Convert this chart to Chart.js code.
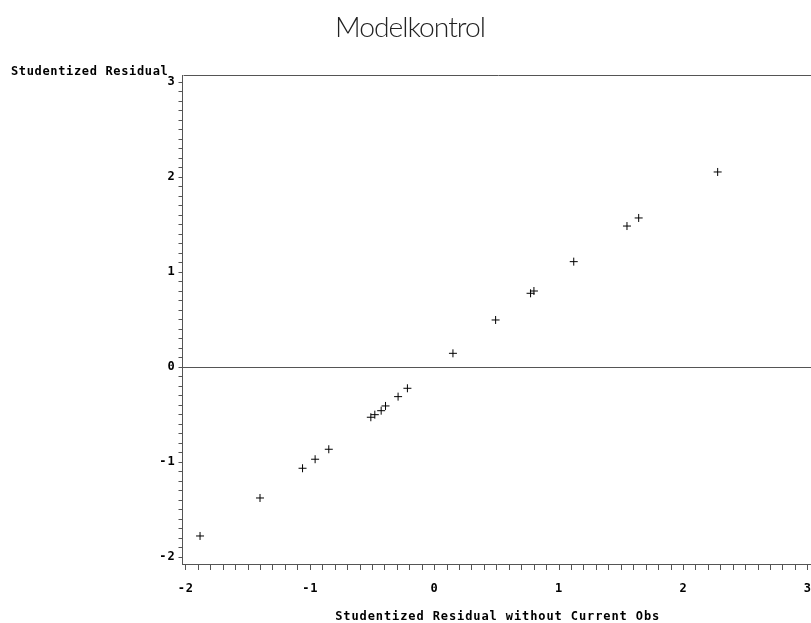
<!DOCTYPE html>
<html>
<head>
<meta charset="utf-8">
<title>Modelkontrol</title>
<script src="https://cdn.jsdelivr.net/npm/chart.js@4.4.0/dist/chart.umd.min.js"></script>
<style>
  html, body { margin: 0; padding: 0; background: #fff; overflow: hidden; }
  #wrap { width: 811px; height: 623px; overflow: hidden; }
  canvas { display: block; }
</style>
</head>
<body>
<div id="wrap"><canvas id="residChart" width="824" height="623"></canvas></div>
<script>
// ========== Data ==========
const xResidNoObs = [-1.886, -1.404, -1.062, -0.961, -0.851, -0.513, -0.481, -0.430, -0.395, -0.294,
                     -0.219, 0.147, 0.490, 0.771, 0.798, 1.118, 1.546, 1.640, 2.275];
const yResid = [-1.776, -1.376, -1.063, -0.968, -0.863, -0.526, -0.499, -0.457, -0.407, -0.309,
                -0.221, 0.147, 0.498, 0.779, 0.803, 1.112, 1.487, 1.572, 2.056];

const xTickLabels = [-2, -1, 0, 1, 2, 3];
const yTickLabels = [-2, -1, 0, 1, 2, 3];
const xRange = [-2.027, 3.041];
const yRange = [-2.071, 3.077];

const chartTitle = 'Modelkontrol';
const xTitle = 'Studentized Residual without Current Obs';
const yTitle = 'Studentized Residual';

// ========== Utils ==========
const monoFont = { family: '"DejaVu Sans Mono", "Liberation Mono", monospace', size: 12, weight: 'bold' };
const axisColor = '#555';

function labelFor(list, v) {
  const hit = list.find(t => Math.abs(t - v) < 1e-6);
  return hit === undefined ? '' : String(hit);
}

// letter spacing to get the wide SAS-like monospace look
const spacing = {
  id: 'spacing',
  beforeUpdate(chart) { chart.ctx.letterSpacing = '0.9px'; },
  beforeDraw(chart) { chart.ctx.letterSpacing = '0.9px'; }
};

// title, horizontal y-title and frame
const sasDecor = {
  id: 'sasDecor',
  afterDraw(chart) {
    const { ctx, chartArea } = chart;
    ctx.save();
    ctx.strokeStyle = axisColor;
    ctx.lineWidth = 1;
    ctx.beginPath();
    ctx.moveTo(Math.round(chartArea.left) + 0.5, Math.round(chartArea.top) + 0.5);
    ctx.lineTo(Math.round(chartArea.right) + 0.5, Math.round(chartArea.top) + 0.5);
    ctx.lineTo(Math.round(chartArea.right) + 0.5, Math.round(chartArea.bottom) + 0.5);
    ctx.stroke();

    ctx.letterSpacing = '0.65px';
    ctx.fillStyle = '#000';
    ctx.font = 'bold 12px "DejaVu Sans Mono", "Liberation Mono", monospace';
    ctx.textBaseline = 'middle';
    ctx.textAlign = 'left';
    ctx.fillText(yTitle, 11, 71.5);

    ctx.letterSpacing = '-1px';
    ctx.font = '300 28px Lato, "Open Sans", sans-serif';
    ctx.textBaseline = 'alphabetic';
    ctx.textAlign = 'center';
    ctx.fillStyle = '#222';
    const w = ctx.measureText(chartTitle).width;
    const sx = 150 / w;
    ctx.translate(410, 37);
    ctx.scale(sx, 1);
    ctx.fillText(chartTitle, 0, 0);
    ctx.restore();
  }
};

// ========== Chart ==========
const points = xResidNoObs.map((x, i) => ({ x, y: yResid[i] }));

new Chart(document.getElementById('residChart'), {
  type: 'scatter',
  data: {
    datasets: [{
      data: points,
      pointStyle: 'cross',
      radius: 4,
      hoverRadius: 4,
      borderColor: '#000',
      backgroundColor: '#000',
      borderWidth: 1
    }]
  },
  options: {
    responsive: false,
    animation: false,
    events: [],
    layout: { padding: { left: 0, top: 75, right: 10, bottom: 0 } },
    plugins: { legend: { display: false }, tooltip: { enabled: false } },
    scales: {
      x: {
        type: 'linear',
        position: 'bottom',
        min: xRange[0],
        max: xRange[1],
        afterFit: s => { s.height = 59; },
        border: { color: axisColor, width: 1 },
        grid: { drawOnChartArea: false, tickLength: 6, tickColor: axisColor },
        ticks: {
          stepSize: 0.1,
          includeBounds: false,
          autoSkip: false,
          maxTicksLimit: 200,
          maxRotation: 0,
          padding: 12,
          color: '#000',
          font: monoFont,
          callback: v => labelFor(xTickLabels, v)
        },
        title: { display: true, text: xTitle, color: '#000', font: monoFont, padding: { top: 0, bottom: -1 } }
      },
      y: {
        type: 'linear',
        min: yRange[0],
        max: yRange[1],
        afterFit: s => { s.width = 182.5; },
        border: { color: axisColor, width: 1 },
        grid: {
          tickLength: 4,
          tickColor: axisColor,
          color: c => (c.tick && Math.abs(c.tick.value) < 1e-6) ? axisColor : 'rgba(0,0,0,0)'
        },
        ticks: {
          stepSize: 0.1,
          includeBounds: false,
          autoSkip: false,
          maxTicksLimit: 200,
          padding: 3,
          color: '#000',
          font: monoFont,
          callback: v => labelFor(yTickLabels, v)
        }
      }
    }
  },
  plugins: [spacing, sasDecor]
});
</script>
</body>
</html>
